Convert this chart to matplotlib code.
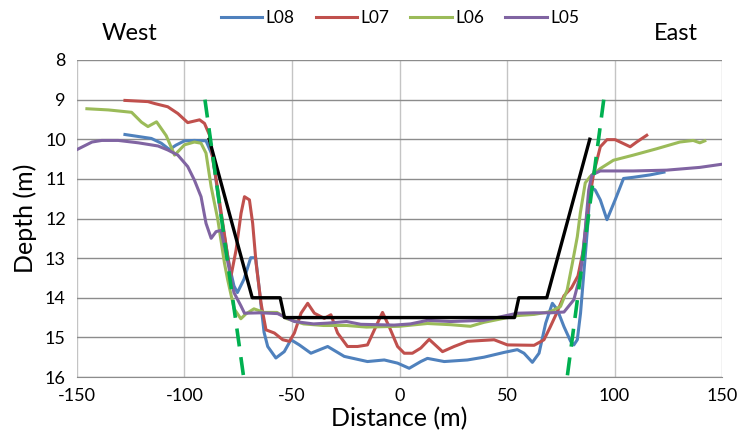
import matplotlib.pyplot as plt

plt.rcParams['font.family'] = ['Lato', 'DejaVu Sans']
plt.rcParams['axes.unicode_minus'] = False

# design profile (black) and side slope lines (green dashed)
design_x = [-88.5, -68.5, -55.5, -53.5, 53.5, 55.5, 68.5, 88.5]
design_d = [10.0, 14.0, 14.0, 14.5, 14.5, 14.0, 14.0, 10.0]
slope_w_x = [-90.5, -72.5]
slope_w_d = [9.0, 16.0]
slope_e_x = [95.0, 78.0]
slope_e_d = [9.0, 16.0]

# survey lines
l08_x = [-127.7, -115.4, -110.8, -107.0, -104.0, -100.0, -95.4, -90.0, -86.8, -83.7,
         -81.4, -79.1, -77.0, -75.4, -72.3, -69.2, -66.9, -65.4, -63.0, -61.3,
         -57.5, -53.6, -50.5, -46.6, -41.2, -33.4, -25.7, -14.9, -7.1, -0.9,
         4.5, 9.9, 13.0, 20.8, 31.6, 39.3, 48.6, 54.8, 57.9, 61.8,
         64.9, 68.0, 71.1, 73.4, 76.5, 79.6, 81.1, 82.7, 84.2, 86.0,
         87.5, 88.7, 91.0, 93.4, 96.5, 100.3, 104.2, 108.8, 116.5, 123.0]
l08_d = [9.88, 9.98, 10.1, 10.26, 10.15, 10.04, 10.03, 10.04, 10.44, 11.7,
         12.46, 13.2, 13.7, 13.87, 13.53, 12.99, 12.99, 13.7, 14.87, 15.23,
         15.52, 15.36, 15.06, 15.19, 15.4, 15.23, 15.48, 15.61, 15.57, 15.65,
         15.78, 15.61, 15.53, 15.61, 15.57, 15.5, 15.38, 15.31, 15.4, 15.63,
         15.4, 14.64, 14.14, 14.3, 14.73, 15.1, 15.19, 15.06, 14.39, 13.2,
         12.2, 11.2, 11.28, 11.53, 12.03, 11.53, 10.99, 10.96, 10.9, 10.83]

l07_x = [-127.7, -117.0, -113.8, -107.8, -103.1, -98.5, -93.0, -90.7, -88.4, -86.8,
         -84.5, -82.2, -79.9, -78.4, -76.0, -73.7, -72.1, -69.8, -68.3, -66.7,
         -64.4, -62.1, -58.2, -54.3, -51.2, -48.9, -45.8, -42.7, -39.6, -35.0,
         -31.9, -28.8, -24.2, -19.5, -14.9, -11.0, -7.9, -4.8, -0.9, 2.2,
         6.0, 9.9, 13.8, 20.0, 25.4, 31.6, 44.0, 50.2, 62.6, 67.2,
         70.0, 73.0, 76.5, 80.0, 83.0, 85.5, 87.2, 90.3, 93.4, 96.5,
         100.3, 104.2, 107.3, 110.3, 115.0]
l07_d = [9.02, 9.05, 9.1, 9.18, 9.35, 9.58, 9.51, 9.6, 9.89, 10.52,
         11.28, 12.12, 12.96, 13.46, 12.79, 11.87, 11.45, 11.53, 12.12, 13.13,
         14.14, 14.81, 14.89, 15.06, 15.1, 14.89, 14.39, 14.14, 14.39, 14.52,
         14.43, 14.89, 15.23, 15.23, 15.19, 14.73, 14.37, 14.73, 15.23, 15.4,
         15.4, 15.27, 15.05, 15.36, 15.23, 15.1, 15.06, 15.19, 15.2, 15.06,
         14.75, 14.4, 13.95, 13.75, 13.45, 12.8, 11.9, 10.86, 10.19, 10.01,
         10.01, 10.11, 10.19, 10.07, 9.9]

l06_x = [-145.4, -135.4, -124.6, -120.0, -117.0, -113.0, -108.5, -104.6, -100.0, -95.4,
         -92.3, -90.0, -87.6, -84.5, -81.4, -79.9, -76.9, -73.8, -71.5, -67.7,
         -63.0, -57.0, -52.3, -44.6, -35.4, -24.6, -15.4, 0.0, 13.0, 23.8,
         33.0, 39.3, 54.8, 62.6, 70.3, 74.9, 78.0, 80.4, 82.7, 84.1,
         86.4, 88.7, 93.4, 99.5, 108.8, 119.6, 130.4, 136.6, 139.7, 142.0]
l06_d = [9.23, 9.26, 9.32, 9.57, 9.68, 9.56, 9.91, 10.4, 10.14, 10.07,
         10.1, 10.35, 11.2, 12.03, 13.13, 13.55, 14.28, 14.53, 14.41, 14.28,
         14.37, 14.37, 14.53, 14.66, 14.7, 14.7, 14.74, 14.72, 14.65, 14.68,
         14.72, 14.62, 14.45, 14.42, 14.35, 14.22, 13.8, 13.13, 12.46, 11.86,
         11.1, 10.94, 10.74, 10.53, 10.4, 10.24, 10.07, 10.03, 10.09, 10.04]

l05_x = [-150.0, -143.0, -138.5, -130.8, -121.5, -112.3, -107.8, -103.1, -98.5, -95.4,
         -92.3, -90.0, -87.6, -85.3, -83.0, -80.7, -79.1, -77.0, -73.8, -72.1,
         -64.4, -56.7, -48.9, -40.0, -33.4, -24.6, -18.0, -2.5, 5.1, 13.0,
         23.8, 39.3, 54.8, 62.6, 70.3, 76.5, 81.1, 84.2, 86.4, 88.0,
         89.5, 93.4, 108.8, 124.2, 139.7, 150.0]
l05_d = [10.26, 10.07, 10.03, 10.03, 10.09, 10.17, 10.27, 10.4, 10.69, 11.03,
         11.45, 12.12, 12.5, 12.33, 12.3, 12.88, 13.3, 13.87, 14.2, 14.39,
         14.38, 14.4, 14.6, 14.66, 14.64, 14.6, 14.67, 14.69, 14.66, 14.57,
         14.6, 14.57, 14.39, 14.38, 14.38, 14.36, 14.05, 13.4, 12.28, 11.28,
         10.9, 10.8, 10.8, 10.78, 10.71, 10.63]

x_ticks = [-150, -100, -50, 0, 50, 100, 150]
y_ticks = [8, 9, 10, 11, 12, 13, 14, 15, 16]

fig = plt.figure(figsize=(7.41, 4.46), dpi=100)
ax = fig.add_axes([77 / 741, 1 - 377 / 446, 645 / 741, 317 / 446])

ax.plot(l08_x, l08_d, color='#4F81BD', lw=2.2, label='L08')
ax.plot(l07_x, l07_d, color='#C0504D', lw=2.2, label='L07')
ax.plot(l06_x, l06_d, color='#9BBB59', lw=2.2, label='L06')
ax.plot(l05_x, l05_d, color='#8064A2', lw=2.2, label='L05')
ax.plot(design_x, design_d, color='black', lw=2.4)
ax.plot(slope_w_x, slope_w_d, color='#00B050', lw=2.6, dashes=(5, 3))
ax.plot(slope_e_x, slope_e_d, color='#00B050', lw=2.6, dashes=(5, 3))

ax.set_xlim(-150, 150)
ax.set_ylim(16, 8)
ax.set_xticks(x_ticks)
ax.set_yticks(y_ticks)
ax.tick_params(length=0, labelsize=13, pad=8)
ax.grid(axis='y', color='#8c8c8c', lw=1.0)
ax.grid(axis='x', color='#c4c4c4', lw=1.0)
ax.set_axisbelow(True)
for s in ax.spines.values():
    s.set_visible(False)
ax.spines['bottom'].set_visible(True)
ax.spines['bottom'].set_color('#8c8c8c')

ax.set_xlabel('Distance (m)', fontsize=18, labelpad=2)
ax.set_ylabel('Depth (m)', fontsize=18, labelpad=6)

fig.text(130 / 741, 1 - 33 / 446, 'West', fontsize=17, ha='center', va='center')
fig.text(676 / 741, 1 - 33 / 446, 'East', fontsize=17, ha='center', va='center')

fig.legend(loc='center', bbox_to_anchor=(400 / 741, 1 - 18 / 446), ncol=4, frameon=False,
           fontsize=12.5, handlelength=2.4, handletextpad=0.2, columnspacing=1.2)

fig.savefig('out.png', dpi=100)
